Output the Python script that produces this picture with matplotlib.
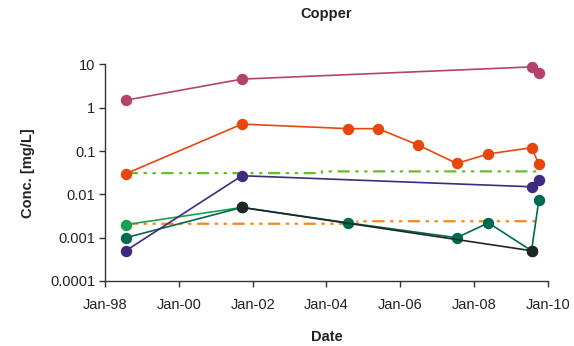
import numpy as np
import pandas as pd
import matplotlib
matplotlib.use("Agg")
import matplotlib.pyplot as plt
import matplotlib.dates as mdates

plt.rcParams['font.family'] = ['Liberation Sans', 'DejaVu Sans']

# copper concentrations (mg/L) by sampling location
site_a_dates = ["1998-07-26", "2001-09-17", "2009-07-22", "2009-10-03"]
site_a_conc = [1.5, 4.6, 8.8, 6.3]

site_b_dates = ["1998-07-26", "2001-09-17", "2004-08-03", "2005-05-27", "2006-06-27",
                "2007-07-12", "2008-05-22", "2009-07-22", "2009-10-03"]
site_b_conc = [0.03, 0.42, 0.33, 0.33, 0.138, 0.052, 0.086, 0.12, 0.05]

site_c_dates = ["1998-07-26", "2001-09-17", "2009-07-22", "2009-10-03"]
site_c_conc = [0.0005, 0.027, 0.015, 0.022]

site_d_dates = ["1998-07-26", "2001-09-17"]
site_d_conc = [0.002, 0.005]

site_e_dates = ["1998-07-26", "2001-09-17", "2004-08-03", "2007-07-12", "2008-05-22",
                "2009-07-22", "2009-10-03"]
site_e_conc = [0.001, 0.005, 0.0022, 0.001, 0.0022, 0.0005, 0.0075]

site_f_dates = ["2001-09-17", "2009-07-22"]
site_f_conc = [0.005, 0.0005]

# guideline values
guide_1_dates = ["1998-07-26", "2003-11-15", "2003-11-16", "2009-10-03"]
guide_1_conc = [0.031, 0.031, 0.034, 0.034]
guide_2_dates = ["1998-07-26", "2004-11-01", "2004-11-02", "2009-10-03"]
guide_2_conc = [0.0021, 0.0021, 0.0024, 0.0024]

fig = plt.figure(figsize=(5.74, 3.46), dpi=100)
ax = fig.add_axes([105 / 574, 1 - 281 / 346, (548 - 105) / 574, (281 - 64.5) / 346])

dashdotdot = (0, (5.5, 2.5, 1.5, 2.5, 1.5, 2.5))
ax.plot(pd.to_datetime(guide_1_dates), guide_1_conc, color="#6cbb2c", lw=1.6, ls=dashdotdot)
ax.plot(pd.to_datetime(guide_2_dates), guide_2_conc, color="#f08a1c", lw=1.6, ls=dashdotdot)

ms = 7.2
lw = 1.2
series = [
    (site_d_dates, site_d_conc, "#17a150"),
    (site_e_dates, site_e_conc, "#006a4e"),
    (site_f_dates, site_f_conc, "#222528"),
    (site_c_dates, site_c_conc, "#3f2a80"),
    (site_b_dates, site_b_conc, "#e8470c"),
    (site_a_dates, site_a_conc, "#b6426c"),
]
for dates, conc, color in series:
    ax.plot(pd.to_datetime(dates), conc, "o-", color=color, lw=lw, ms=ms, clip_on=False)

ax.set_yscale("log")
ax.set_ylim(1e-4, 10)
ax.set_yticks([1e-4, 1e-3, 1e-2, 1e-1, 1, 10])
ax.set_yticklabels(["0.0001", "0.001", "0.01", "0.1", "1", "10"])
ax.minorticks_off()

ax.set_xlim(pd.Timestamp("1998-01-01"), pd.Timestamp("2010-01-01"))
ax.xaxis.set_major_locator(mdates.YearLocator(2))
ax.xaxis.set_major_formatter(mdates.DateFormatter("%b-%y"))

for side in ["top", "right"]:
    ax.spines[side].set_visible(False)
for side in ["left", "bottom"]:
    ax.spines[side].set_color("#333333")
    ax.spines[side].set_linewidth(1.0)
ax.tick_params(axis="both", direction="out", length=4, width=1.0, colors="#333333",
               labelsize=10.5, labelcolor="#222222", pad=3)
ax.tick_params(axis="x", pad=8)

fig.text(326.5 / 574, 1 - 14 / 346, "Copper", fontsize=10.5, fontweight="bold",
         color="#222222", ha="center", va="center")
ax.set_xlabel("Date", fontsize=10.5, fontweight="bold", color="#222222", labelpad=13)
ax.set_ylabel("Conc. [mg/L]", fontsize=10.5, fontweight="bold", color="#222222", labelpad=11)

fig.savefig("out.png", dpi=100)
